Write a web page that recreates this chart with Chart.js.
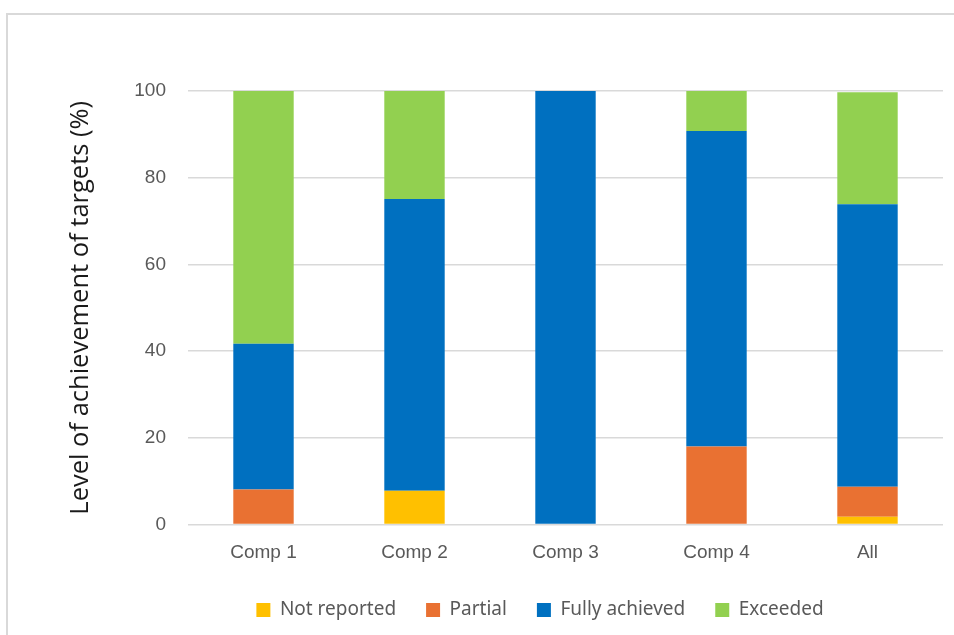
<!DOCTYPE html>
<html>
<head>
<meta charset="utf-8">
<script src="https://cdn.jsdelivr.net/npm/chart.js@4"></script>
<style>
  html, body { margin: 0; padding: 0; background: #fff; }
  #wrap { position: relative; width: 954px; height: 635px; }
  #frame { position: absolute; left: 6px; top: 13px; right: 0; bottom: 0;
           border-top: 2px solid #d9d9d9; border-left: 2px solid #d9d9d9; }
  canvas { position: absolute; left: 0; top: 0; }
</style>
</head>
<body>
<div id="wrap">
  <div id="frame"></div>
  <canvas id="c" width="954" height="635"></canvas>
</div>
<script>
const categories = ["Comp 1", "Comp 2", "Comp 3", "Comp 4", "All"];
const notReported = [0, 7.8, 0, 0, 1.8];
const partial = [8.1, 0, 0, 18.0, 6.9];
const fullyAchieved = [33.6, 67.3, 100, 72.8, 65.2];
const exceeded = [58.3, 24.9, 0, 9.2, 25.8];
const yTicks = [0, 20, 40, 60, 80, 100];

const legendShift = {
  id: 'legendShift',
  afterLayout(chart) {
    const lg = chart.legend;
    if (!lg) return;
    const target = 540;
    const cur = (lg.left + lg.right) / 2;
    const d = target - cur;
    lg.left += d; lg.right += d;
  }
};

new Chart(document.getElementById('c'), {
  type: 'bar',
  data: {
    labels: categories,
    datasets: [
      { label: 'Not reported', data: notReported, backgroundColor: '#FFC000' },
      { label: 'Partial', data: partial, backgroundColor: '#E97132' },
      { label: 'Fully achieved', data: fullyAchieved, backgroundColor: '#0070C0' },
      { label: 'Exceeded', data: exceeded, backgroundColor: '#92D050' }
    ]
  },
  options: {
    responsive: false,
    animation: false,
    datasets: { bar: { barPercentage: 0.4, categoryPercentage: 1.0 } },
    layout: { padding: { left: 56, right: 11, top: 91, bottom: 5.5 } },
    plugins: {
      tooltip: { enabled: false },
      legend: {
        position: 'bottom',
        labels: {
          boxWidth: 14, boxHeight: 14, padding: 30,
          color: '#595959',
          font: { family: 'Noto Sans', size: 19 }
        }
      }
    },
    scales: {
      x: {
        stacked: true,
        grid: { display: false, drawTicks: false },
        border: { display: false },
        ticks: { color: '#595959', padding: 17, font: { family: 'Liberation Sans', size: 19 } },
        afterFit(s) { s.height = 46; }
      },
      y: {
        stacked: true,
        min: 0, max: 100,
        afterBuildTicks(s) { s.ticks = yTicks.map(v => ({ value: v })); },
        grid: { color: '#d9d9d9', lineWidth: 1.5, drawTicks: false },
        border: { display: false },
        ticks: { color: '#595959', padding: 22, font: { family: 'Liberation Sans', size: 19 } },
        title: {
          display: true,
          text: 'Level of achievement of targets (%)',
          color: '#1a1a1a',
          padding: { top: 9, bottom: 0 },
          font: { family: 'Open Sans', size: 25.5 }
        },
        afterFit(s) { s.width = 132; }
      }
    }
  },
  plugins: [legendShift]
});
</script>
</body>
</html>
